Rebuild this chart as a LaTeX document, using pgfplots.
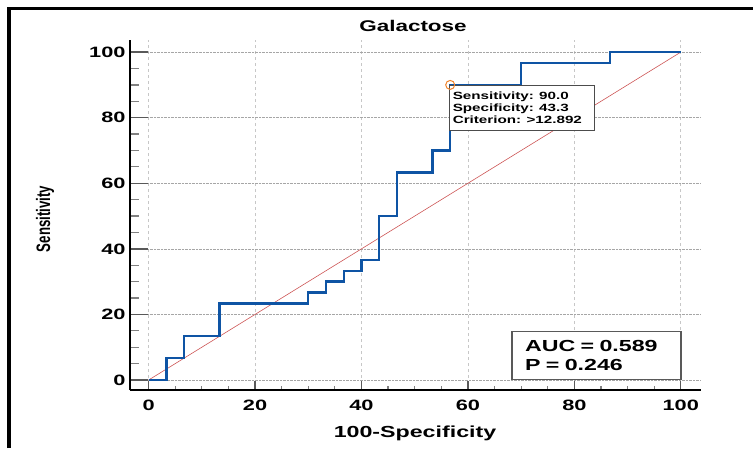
\documentclass[border=0pt]{standalone}
\usepackage{fontspec}
\setmainfont{Liberation Sans}[FakeStretch=1.45]
\newfontfamily\narrowfont{Liberation Sans}[FakeStretch=0.68]
\usepackage{pgfplots}
\pgfplotsset{compat=1.18}
\definecolor{rocblue}{RGB}{14,84,164}
\definecolor{diagred}{RGB}{205,85,85}
\definecolor{mkorange}{RGB}{240,130,40}
\begin{document}
\begin{tikzpicture}[x=1pt,y=1pt]
\useasboundingbox (0,0) rectangle (753,448);
\draw[line width=3.5pt] (9,0) -- (9,439.5) -- (753,439.5);
\begin{axis}[
  at={(130pt,58pt)}, anchor=south west,
  scale only axis, width=571pt, height=350pt,
  xmin=-3.5, xmax=103.8, ymin=-3.05, ymax=103.7,
  axis x line=bottom, axis y line=left,
  axis line style={line width=2.5pt, -},
  xtick={0,20,40,60,80,100}, ytick={0,20,40,60,80,100},
  minor x tick num=3, minor y tick num=3,
  tick align=inside,
  major tick length=18pt, minor tick length=9pt,
  xtick style={/pgfplots/major tick length=9pt,/pgfplots/minor tick length=4.5pt},
  major tick style={line width=1.4pt, color=black!65},
  minor tick style={line width=1.2pt, color=black!50},
  grid=major,
  x grid style={dashed, color=black!22, line width=0.8pt},
  y grid style={densely dotted, color=black!35, line width=0.7pt},
  /pgf/number format/assume math mode=true,
  ticklabel style={font=\bfseries\fontsize{15}{15}\selectfont},
  xticklabel style={yshift=-6pt},
  yticklabel style={xshift=-1pt},
]
\addplot[diagred, line width=0.6pt] coordinates {(0,0) (100,100)};
\addplot[rocblue, line width=2.4pt, line join=miter] coordinates {
  (0,0) (3.33,0) (3.33,6.67) (6.67,6.67) (6.67,13.33) (13.33,13.33)
  (13.33,23.33) (30,23.33) (30,26.67) (33.33,26.67) (33.33,30)
  (36.67,30) (36.67,33.33) (40,33.33) (40,36.67) (43.33,36.67)
  (43.33,50) (46.67,50) (46.67,63.33) (53.33,63.33) (53.33,70)
  (56.67,70) (56.67,90) (70,90) (70,96.67) (86.67,96.67)
  (86.67,100) (100,100)};
\addplot[only marks, mark=o, mark size=4.5pt, mark options={mkorange, line width=1pt}] coordinates {(56.67,90)};
\node[draw=black!70, fill=white, line width=1pt, anchor=north west,
      inner xsep=3.5pt, inner ysep=6.5pt, text width=138pt, align=left,
      font=\bfseries\fontsize{10.5}{12}\selectfont]
  at (axis cs:56.4,90) {Sensitivity: 90.0\\Specificity: 43.3\\Criterion: >12.892};
\node[draw=black!65, fill=white, line width=1.5pt, anchor=south east,
      inner xsep=13pt, text width=143pt, minimum height=48pt, align=left,
      font=\bfseries\fontsize{16}{19}\selectfont]
  at (axis cs:100.2,0) {AUC = 0.589\\P = 0.246};
\end{axis}
\node[font=\bfseries\fontsize{15.5}{15.5}\selectfont, anchor=base] at (413,416) {Galactose};
\node[font=\bfseries\fontsize{16}{16}\selectfont, anchor=base] at (415,11) {100-Specificity};
\node[rotate=90, font=\narrowfont\bfseries\fontsize{19.5}{19.5}\selectfont] at (45,229) {Sensitivity};
\end{tikzpicture}
\end{document}
